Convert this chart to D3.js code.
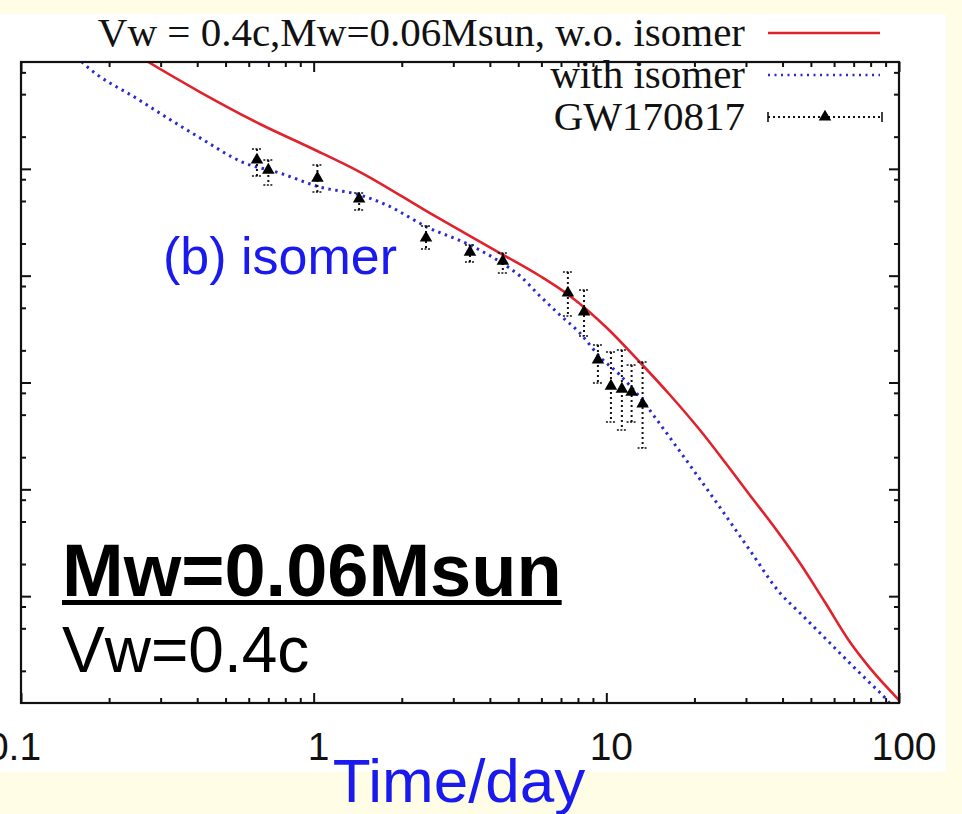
<!DOCTYPE html>
<html><head><meta charset="utf-8">
<script src="https://cdn.jsdelivr.net/npm/d3@7"></script>
<style>html,body{margin:0;padding:0;background:#fffde6;overflow:hidden}</style>
</head><body><svg id="c" width="962" height="814"></svg>
<script>
// ---- data (time in days, log10 luminosity) ----
const redT    = [0.25, 0.272, 0.409, 0.655, 0.995, 1.44, 2.557, 4.33, 5.93, 7.51, 10.05, 13.0, 16.5, 20.88, 25.4, 30.9, 37.7, 45.85, 55.8, 67.96, 79.6, 100];
const redLogL = [43.06, 43.00, 42.719, 42.42, 42.186, 41.97, 41.568, 41.212, 40.997, 40.81, 40.51, 40.192, 39.883, 39.555, 39.256, 38.947, 38.638, 38.31, 37.945, 37.571, 37.327, 37.028];

const blueT    = [0.155, 0.1616, 0.255, 0.409, 0.574, 0.767, 1.05, 1.44, 1.78, 2.44, 3.42, 4.40, 5.07, 5.93, 6.94, 8.12, 9.51, 11.13, 13.0, 14.9, 17.4, 24.4, 30.9, 39.2, 45.9, 58.1, 66.4, 77.7, 90.9, 94.0];
const blueLogL = [43.05, 43.00, 42.64, 42.29, 42.06, 41.96, 41.83, 41.755, 41.66, 41.455, 41.287, 41.118, 40.997, 40.81, 40.632, 40.463, 40.239, 40.07, 39.864, 39.649, 39.396, 38.834, 38.432, 38.03, 37.842, 37.561, 37.40, 37.215, 37.028, 36.98];

const obsT    = [0.64, 0.70, 1.03, 1.43, 2.42, 3.42, 4.43, 7.39, 8.39, 9.36, 10.37, 11.30, 12.2, 13.3];
const obsLogL = [42.083, 41.989, 41.914, 41.718, 41.353, 41.221, 41.137, 40.838, 40.66, 40.211, 39.967, 39.939, 39.911, 39.799];
const obsHi   = [42.186, 42.083, 42.036, 41.774, 41.465, 41.287, 41.212, 41.034, 40.866, 40.351, 40.285, 40.304, 40.164, 40.192];
const obsLo   = [41.933, 41.849, 41.783, 41.615, 41.25, 41.128, 41.025, 40.622, 40.435, 39.995, 39.63, 39.555, 39.63, 39.387];

const xTickLabels = ["0.1", "1", "10", "100"];
const legendLabels = ["Vw = 0.4c,Mw=0.06Msun, w.o. isomer", "with isomer", "GW170817"];

// ---- layout ----
const W = 962, H = 814;
const L = 21, R = 899, T = 62, B = 703;
const svg = d3.select('#c');
svg.append('rect').attr('width', W).attr('height', H).attr('fill', '#fffde6');
svg.append('rect').attr('x', 0).attr('y', 14).attr('width', 946).attr('height', 758).attr('fill', '#ffffff');

const x = d3.scaleLog().domain([0.1, 100]).range([L, R]);
const y = d3.scaleLog().domain([1e37, 1e43]).range([B, T]);
const P = v => Math.pow(10, v);

svg.append('defs').append('clipPath').attr('id', 'clip')
  .append('rect').attr('x', L).attr('y', T).attr('width', R - L).attr('height', B - T);

// ticks
const xAll = x.ticks();
const isMajor = v => Math.abs(Math.log10(v) - Math.round(Math.log10(v))) < 1e-9;
const xMajor = xAll.filter(isMajor), xMinor = xAll.filter(v => !isMajor(v));
const yMajor = [1e38, 1e39, 1e40, 1e41, 1e42];
const yMinor = [];
for (let e = 37; e < 43; e++) [2, 5, 8].forEach(k => yMinor.push(k * Math.pow(10, e)));

function axis(gen, scale, vals, size, tr) {
  const g = svg.append('g').attr('transform', tr)
    .call(gen(scale).tickValues(vals).tickSizeInner(size).tickSizeOuter(0).tickFormat(''));
  g.select('.domain').remove();
  g.selectAll('line').attr('stroke', '#111').attr('stroke-width', 2);
}
axis(d3.axisBottom, x, xMinor, -5, `translate(0,${B})`);
axis(d3.axisBottom, x, xMajor, -10, `translate(0,${B})`);
axis(d3.axisTop, x, xMinor, -5, `translate(0,${T})`);
axis(d3.axisTop, x, xMajor, -10, `translate(0,${T})`);
axis(d3.axisLeft, y, yMinor, -5, `translate(${L},0)`);
axis(d3.axisLeft, y, yMajor, -10, `translate(${L},0)`);
axis(d3.axisRight, y, yMinor, -5, `translate(${R},0)`);
axis(d3.axisRight, y, yMajor, -10, `translate(${R},0)`);

// curves
const plot = svg.append('g').attr('clip-path', 'url(#clip)');
const line = d3.line().x(d => x(d[0])).y(d => y(P(d[1]))).curve(d3.curveMonotoneX);
plot.append('path').datum(blueT.map((t, i) => [t, blueLogL[i]]))
  .attr('d', line).attr('fill', 'none').attr('stroke', '#2a2ad0')
  .attr('stroke-width', 3).attr('stroke-dasharray', '2.5,4.5');
plot.append('path').datum(redT.map((t, i) => [t, redLogL[i]]))
  .attr('d', line).attr('fill', 'none').attr('stroke', '#e0222c').attr('stroke-width', 2.6);

// observations
const obs = obsT.map((t, i) => ({t, v: obsLogL[i], hi: obsHi[i], lo: obsLo[i]}));
const og = svg.append('g');
og.selectAll('line.eb').data(obs).join('line').attr('class', 'eb')
  .attr('x1', d => x(d.t)).attr('x2', d => x(d.t))
  .attr('y1', d => y(P(d.hi))).attr('y2', d => y(P(d.lo)))
  .attr('stroke', '#111').attr('stroke-width', 2).attr('stroke-dasharray', '2,3');
['hi', 'lo'].forEach(k => {
  og.selectAll('line.cap' + k).data(obs).join('line').attr('class', 'cap' + k)
    .attr('x1', d => x(d.t) - 5).attr('x2', d => x(d.t) + 5)
    .attr('y1', d => y(P(d[k]))).attr('y2', d => y(P(d[k])))
    .attr('stroke', '#111').attr('stroke-width', 1.6).attr('stroke-dasharray', '2,1.5');
});
const tri = d3.symbol().type(d3.symbolTriangle).size(68);
og.selectAll('path.tri').data(obs).join('path').attr('class', 'tri')
  .attr('d', tri).attr('transform', d => `translate(${x(d.t)},${y(P(d.v))})`).attr('fill', '#000');

// frame
svg.append('rect').attr('x', L).attr('y', T).attr('width', R - L).attr('height', B - T)
  .attr('fill', 'none').attr('stroke', '#111').attr('stroke-width', 2.2);

// legend
const serif = "'Liberation Serif','Times New Roman',serif";
const legY = [33, 75, 117];
legendLabels.forEach((s, i) => {
  svg.append('text').attr('x', 745).attr('y', legY[i] + 13).attr('text-anchor', 'end')
    .attr('font-family', serif).attr('font-size', 41).attr('fill', '#111').text(s);
});
svg.append('line').attr('x1', 768).attr('x2', 880).attr('y1', legY[0]).attr('y2', legY[0])
  .attr('stroke', '#e0222c').attr('stroke-width', 2.6);
svg.append('line').attr('x1', 768).attr('x2', 880).attr('y1', legY[1]).attr('y2', legY[1])
  .attr('stroke', '#2a2ad0').attr('stroke-width', 2.6).attr('stroke-dasharray', '2,4.5');
svg.append('line').attr('x1', 768).attr('x2', 882).attr('y1', legY[2]).attr('y2', legY[2])
  .attr('stroke', '#111').attr('stroke-width', 2).attr('stroke-dasharray', '2,3');
[768, 882].forEach(xx => svg.append('line').attr('x1', xx).attr('x2', xx)
  .attr('y1', legY[2] - 5).attr('y2', legY[2] + 5).attr('stroke', '#111').attr('stroke-width', 1.6));
svg.append('path').attr('d', tri).attr('transform', `translate(825,${legY[2]})`).attr('fill', '#000');

// x tick labels
const sans = "'Liberation Sans',Arial,Helvetica,sans-serif";
xMajor.forEach((v, i) => {
  svg.append('text').attr('x', x(v) + (i === 0 ? -7 : 5)).attr('y', 760)
    .attr('text-anchor', 'middle').attr('font-family', sans).attr('font-size', 39)
    .attr('fill', '#111').text(xTickLabels[i]);
});

// annotations
svg.append('text').attr('x', 163).attr('y', 274).attr('font-family', sans)
  .attr('font-size', 52).attr('fill', '#1a1aee').text('(b) isomer');
const mw = svg.append('text').attr('x', 62).attr('y', 596).attr('font-family', sans)
  .attr('font-size', 74).attr('font-weight', 'bold').attr('fill', '#000').text('Mw=0.06Msun');
const mwLen = mw.node().getComputedTextLength();
svg.append('rect').attr('x', 62).attr('y', 600).attr('width', mwLen).attr('height', 5).attr('fill', '#000');
svg.append('text').attr('x', 62).attr('y', 672).attr('font-family', sans)
  .attr('font-size', 64).attr('fill', '#000').text('Vw=0.4c');
svg.append('text').attr('x', 459).attr('y', 802).attr('text-anchor', 'middle').attr('font-family', sans)
  .attr('font-size', 62).attr('fill', '#1a1aee').text('Time/day');
</script>
</body></html>
